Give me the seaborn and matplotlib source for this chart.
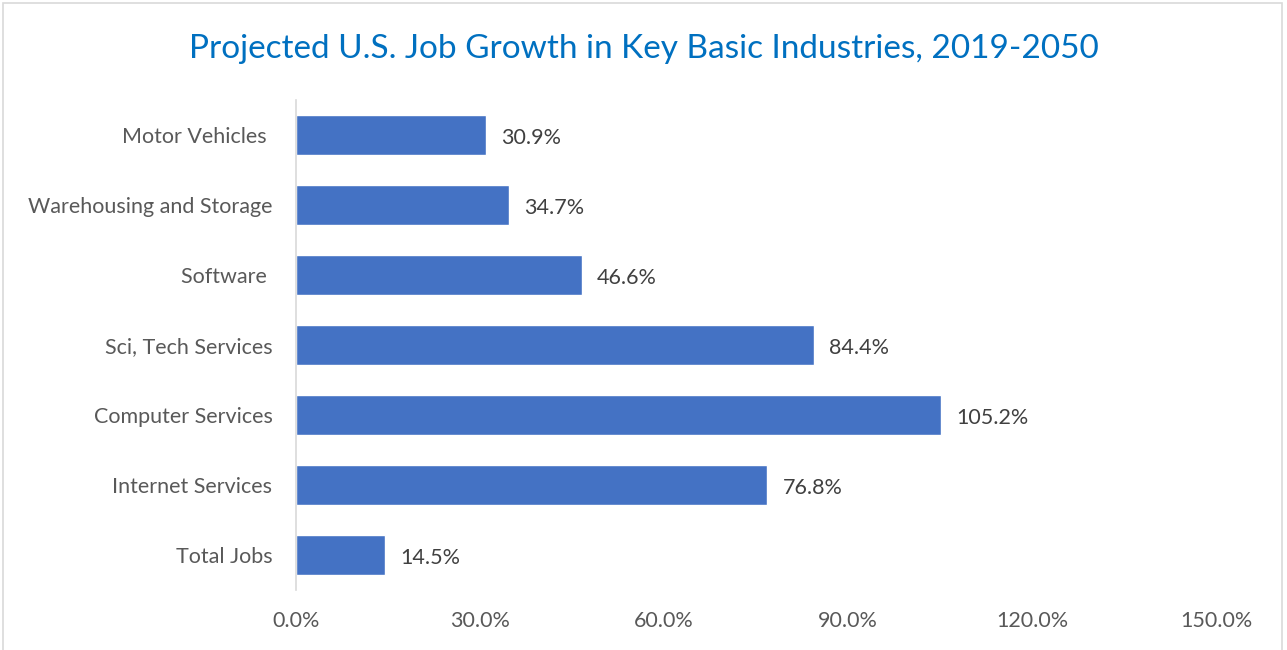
import matplotlib
matplotlib.use("Agg")
import matplotlib.pyplot as plt
import seaborn as sns
import pandas as pd
from matplotlib.patches import Rectangle
from matplotlib.ticker import FuncFormatter

industries = ["Motor Vehicles ", "Warehousing and Storage", "Software ",
              "Sci, Tech Services", "Computer Services", "Internet Services",
              "Total Jobs"]
growth = [30.9, 34.7, 46.6, 84.4, 105.2, 76.8, 14.5]
x_ticks = [0, 30, 60, 90, 120, 150]

df = pd.DataFrame({"industry": industries, "growth": growth})

sns.set_style("white")
plt.rcParams['font.family'] = ['Lato', 'DejaVu Sans']

fig = plt.figure(figsize=(12.87, 6.5), dpi=100)
ax = fig.add_axes([0.230, 0.092, 0.715, 0.754])

sns.barplot(data=df, x="growth", y="industry", orient="h", color="#4472C4",
            saturation=1, width=0.57, ax=ax)

for i, v in enumerate(growth):
    ax.annotate(f"{v:.1f}%", (v, i), xytext=(11, -2), textcoords="offset points",
                va="center", ha="left", fontsize=15.5, color="#404040")

ax.set_xlim(0, 150)
ax.set_ylim(6.5, -0.5)
ax.set_xticks(x_ticks)
ax.xaxis.set_major_formatter(FuncFormatter(lambda v, p: f"{v:.1f}%"))
ax.set_xlabel("")
ax.set_ylabel("")
ax.tick_params(axis="both", length=0, labelsize=15.5, labelcolor="#595959")
ax.tick_params(axis="y", pad=17)
ax.tick_params(axis="x", pad=15)

for s in ["top", "right", "bottom"]:
    ax.spines[s].set_visible(False)
ax.spines["left"].set_color("#D9D9D9")
ax.spines["left"].set_linewidth(1.2)

fig.text(0.5, 0.925, "Projected U.S. Job Growth in Key Basic Industries, 2019-2050",
         ha="center", va="center", fontsize=24, color="#0070C0")

fig.patches.append(Rectangle((0.002, -0.01), 0.994, 1.005, transform=fig.transFigure,
                             fill=False, edgecolor="#D9D9D9", linewidth=1.2))

fig.savefig("out.png", dpi=100)
